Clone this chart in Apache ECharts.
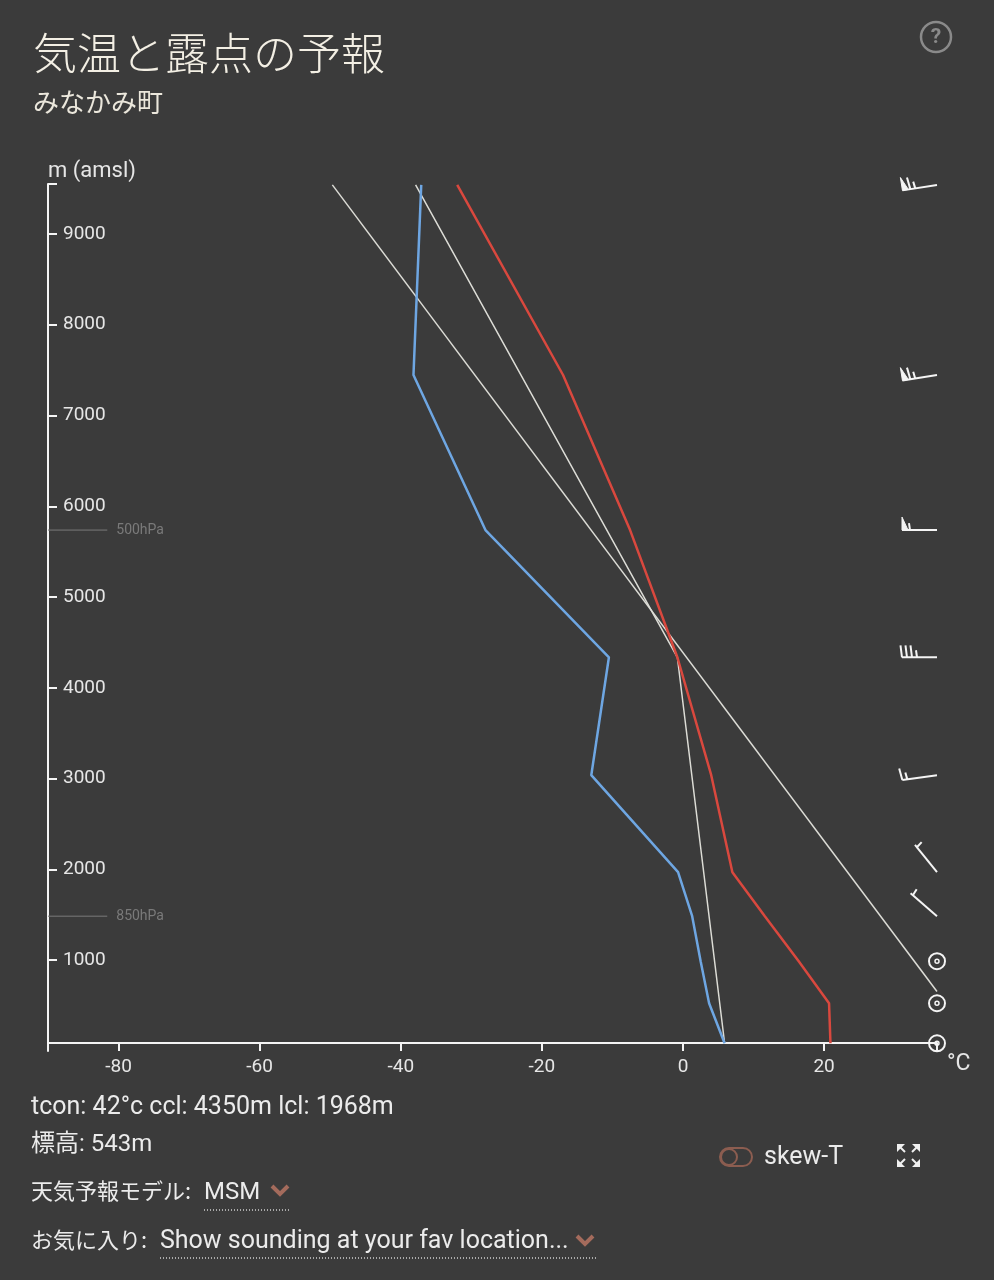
<!DOCTYPE html>
<html>
<head>
<meta charset="utf-8">
<script src="https://cdn.jsdelivr.net/npm/echarts@6/dist/echarts.min.js"></script>
<style>
  html, body { margin: 0; padding: 0; background: #3b3b3b; }
  #chart { width: 994px; height: 1280px; }
</style>
</head>
<body>
<div id="chart"></div>
<script>
// pressure levels (hPa) and their heights (m amsl)
const levels = [1000, 950, 900, 850, 800, 700, 600, 500, 400, 300]
const heights = [85, 526, 989, 1485, 1970, 3038, 4337, 5738, 7446, 9540]
const temperature = [20.9, 20.7, 16.4, 11.6, 7.0, 4.0, -0.8, -7.5, -17.0, -32.0]
const dewpoint = [5.9, 3.7, 2.5, 1.3, -0.7, -13.0, -10.5, -28.0, -38.2, -37.1]
// wind (knots, direction from)
const windSpeed = [0, 0, 0, 5, 5, 15, 35, 55, 65, 65]
const windDir = [0, 0, 0, 311, 321, 262, 270, 270, 261, 261]
// guide lines: dry adiabat through tcon, and parcel path (mixing ratio + moist adiabat)
const dryAdiabat = [[-49.7, 9540], [36, 655]]
const parcelPath = [[5.9, 85], [-0.8, 4337], [-37.9, 9540]]
// reference pressure heights
const pressureRefs = [
  { name: '500hPa', h: 5738 },
  { name: '850hPa', h: 1485 }
]
const xMin = -90
const xMax = 36
const xTicks = [-80, -60, -40, -20, 0, 20]
const yTicks = [1000, 2000, 3000, 4000, 5000, 6000, 7000, 8000, 9000]
const yMax = 9550

const fontUI = 'Roboto, "Noto Sans CJK JP", sans-serif'
const fontJP = '"Noto Sans CJK JP", sans-serif'

const chart = echarts.init(document.getElementById('chart'))

function renderBarb(params, api) {
  const spd = api.value(2)
  const dir = api.value(3) * Math.PI / 180
  const p = api.coord([api.value(0), api.value(1)])
  const stroke = '#f4f4f4'
  if (spd < 2.5) {
    return {
      type: 'group',
      children: [
        { type: 'circle', shape: { cx: p[0], cy: p[1], r: 8 }, style: { fill: 'none', stroke, lineWidth: 2 } },
        { type: 'circle', shape: { cx: p[0], cy: p[1], r: 2 }, style: { fill: 'none', stroke, lineWidth: 1.5 } }
      ]
    }
  }
  const L = 35
  const ux = Math.sin(dir)
  const uy = -Math.cos(dir)
  const nx = -uy
  const ny = ux
  const at = (s, n) => [p[0] + ux * s + nx * n, p[1] + uy * s + ny * n]
  const children = [
    { type: 'line', shape: { x1: p[0], y1: p[1], x2: at(L, 0)[0], y2: at(L, 0)[1] }, style: { stroke, lineWidth: 2 } }
  ]
  let rem = spd
  let pos = L
  while (rem >= 50) {
    children.push({ type: 'polygon', shape: { points: [at(pos, 0), at(pos, 13), at(pos - 6, 0)] }, style: { fill: stroke, stroke, lineWidth: 1 } })
    pos -= 8
    rem -= 50
  }
  while (rem >= 10) {
    const a = at(pos, 0)
    const b = at(pos + 1.5, 12)
    children.push({ type: 'line', shape: { x1: a[0], y1: a[1], x2: b[0], y2: b[1] }, style: { stroke, lineWidth: 2 } })
    pos -= 5
    rem -= 10
  }
  if (rem >= 5) {
    if (pos === L) pos -= 3
    const a = at(pos, 0)
    const b = at(pos + 1, 7)
    children.push({ type: 'line', shape: { x1: a[0], y1: a[1], x2: b[0], y2: b[1] }, style: { stroke, lineWidth: 2 } })
  }
  return { type: 'group', children }
}

const refSeries = pressureRefs.map(r => ({
  type: 'line',
  silent: true,
  symbol: 'none',
  lineStyle: { color: '#7a7a7a', width: 1 },
  endLabel: { show: true, distance: 9, formatter: r.name, color: '#7a7a7a', fontSize: 14, fontFamily: fontUI },
  data: [[xMin, r.h], [-81.6, r.h]],
  z: 1
}))

chart.setOption({
  backgroundColor: '#3b3b3b',
  animation: false,
  title: {
    text: '気温と露点の予報',
    subtext: 'みなかみ町',
    left: 28,
    top: 26,
    itemGap: 14,
    textStyle: { color: '#f3efe4', fontSize: 44, fontWeight: 300, fontFamily: fontJP },
    subtextStyle: { color: '#ebe7dc', fontSize: 26, fontFamily: fontJP }
  },
  grid: { left: 48, right: 57, top: 184, bottom: 229, containLabel: false },
  xAxis: {
    type: 'value',
    min: xMin,
    max: xMax,
    offset: -8,
    name: '°C',
    nameLocation: 'end',
    nameGap: 10,
    nameTextStyle: { color: '#e6e6e6', fontSize: 23, fontFamily: fontUI, verticalAlign: 'top', padding: [10, 0, 0, 0] },
    axisLine: { onZero: false, lineStyle: { color: '#f4f4f4', width: 2 } },
    axisTick: { show: true, length: 8, lineStyle: { color: '#f4f4f4', width: 2 }, customValues: xTicks.concat([xMax]) },
    axisLabel: { color: '#e6e6e6', fontSize: 19, fontFamily: fontUI, margin: 15, customValues: xTicks },
    splitLine: { show: false }
  },
  yAxis: {
    type: 'value',
    min: 0,
    max: yMax,
    name: 'm (amsl)',
    nameLocation: 'end',
    nameGap: 1,
    nameTextStyle: { color: '#e6e6e6', fontSize: 22, fontFamily: fontUI, align: 'left' },
    axisLine: { show: true, onZero: false, lineStyle: { color: '#f4f4f4', width: 2 } },
    axisTick: { show: true, inside: true, length: 9, lineStyle: { color: '#f4f4f4', width: 2 }, customValues: yTicks.concat([yMax]) },
    axisLabel: { inside: true, margin: 15, color: '#e6e6e6', fontSize: 19, fontFamily: fontUI, customValues: yTicks, formatter: v => String(v) },
    splitLine: { show: false }
  },
  series: [
    ...refSeries,
    {
      name: 'dry adiabat',
      type: 'line',
      symbol: 'none',
      silent: true,
      lineStyle: { color: '#dcdcd6', width: 1.5 },
      data: dryAdiabat,
      z: 2
    },
    {
      name: 'parcel',
      type: 'line',
      symbol: 'none',
      silent: true,
      lineStyle: { color: '#dcdcd6', width: 1.5 },
      data: parcelPath,
      z: 2
    },
    {
      name: '露点',
      type: 'line',
      symbol: 'none',
      lineStyle: { color: '#6ea6e2', width: 2.5 },
      data: heights.map((h, i) => [dewpoint[i], h]),
      z: 3
    },
    {
      name: '気温',
      type: 'line',
      symbol: 'none',
      lineStyle: { color: '#d9483e', width: 2.5 },
      data: heights.map((h, i) => [temperature[i], h]),
      z: 3
    },
    {
      name: 'wind',
      type: 'custom',
      renderItem: renderBarb,
      encode: { x: 0, y: 1 },
      data: heights.map((h, i) => [xMax, h, windSpeed[i], windDir[i], levels[i]]),
      clip: false,
      z: 4
    }
  ],
  graphic: [
    // help icon
    { type: 'circle', shape: { cx: 936, cy: 37, r: 15 }, style: { fill: 'none', stroke: '#8a8a8a', lineWidth: 2.5 } },
    { type: 'text', x: 936, y: 38, style: { text: '?', fill: '#8a8a8a', font: 'bold 21px ' + fontUI, align: 'center', verticalAlign: 'middle' } },
    // info lines
    { type: 'text', x: 31, y: 1108, style: { text: 'tcon: 42°c ccl: 4350m lcl: 1968m', fill: '#ebebeb', font: '25px ' + fontUI, verticalAlign: 'middle' } },
    { type: 'text', x: 31, y: 1145, style: { text: '標高: 543m', fill: '#ebebeb', font: '24px ' + fontUI, verticalAlign: 'middle' } },
    { type: 'text', x: 31, y: 1191, style: { text: '天気予報モデル:', fill: '#ebebeb', font: '22px ' + fontJP, verticalAlign: 'middle' } },
    { type: 'text', x: 204, y: 1193, style: { text: 'MSM', fill: '#ebebeb', font: '24px ' + fontUI, verticalAlign: 'middle' } },
    { type: 'polyline', shape: { points: [[272, 1186], [280, 1194], [288, 1186]] }, style: { stroke: '#a46b5c', lineWidth: 4, fill: 'none' } },
    { type: 'line', shape: { x1: 204, y1: 1210, x2: 291, y2: 1210 }, style: { stroke: '#d0d0d0', lineWidth: 1.5, lineDash: [1, 2] } },
    { type: 'text', x: 31, y: 1240, style: { text: 'お気に入り:', fill: '#ebebeb', font: '22px ' + fontJP, verticalAlign: 'middle' } },
    { type: 'text', x: 160, y: 1242, style: { text: 'Show sounding at your fav location...', fill: '#ebebeb', font: '25px ' + fontUI, verticalAlign: 'middle' } },
    { type: 'polyline', shape: { points: [[577, 1236], [585, 1244], [593, 1236]] }, style: { stroke: '#a46b5c', lineWidth: 4, fill: 'none' } },
    { type: 'line', shape: { x1: 160, y1: 1258, x2: 597, y2: 1258 }, style: { stroke: '#d0d0d0', lineWidth: 1.5, lineDash: [1, 2] } },
    // skew-T toggle
    { type: 'rect', shape: { x: 720, y: 1148, width: 32, height: 18, r: 9 }, style: { fill: 'none', stroke: '#8c5d50', lineWidth: 2 } },
    { type: 'circle', shape: { cx: 729, cy: 1157, r: 8 }, style: { fill: 'none', stroke: '#8c5d50', lineWidth: 2 } },
    { type: 'text', x: 764, y: 1158, style: { text: 'skew-T', fill: '#ebebeb', font: '25px ' + fontUI, verticalAlign: 'middle' } },
    // fullscreen icon
    { type: 'polygon', shape: { points: [[897, 1144], [905, 1144], [897, 1152]] }, style: { fill: '#f0f0f0' } },
    { type: 'polygon', shape: { points: [[920, 1144], [912, 1144], [920, 1152]] }, style: { fill: '#f0f0f0' } },
    { type: 'polygon', shape: { points: [[897, 1167], [905, 1167], [897, 1159]] }, style: { fill: '#f0f0f0' } },
    { type: 'polygon', shape: { points: [[920, 1167], [912, 1167], [920, 1159]] }, style: { fill: '#f0f0f0' } },
    { type: 'line', shape: { x1: 899, y1: 1146, x2: 905, y2: 1152 }, style: { stroke: '#f0f0f0', lineWidth: 2 } },
    { type: 'line', shape: { x1: 918, y1: 1146, x2: 912, y2: 1152 }, style: { stroke: '#f0f0f0', lineWidth: 2 } },
    { type: 'line', shape: { x1: 899, y1: 1165, x2: 905, y2: 1159 }, style: { stroke: '#f0f0f0', lineWidth: 2 } },
    { type: 'line', shape: { x1: 918, y1: 1165, x2: 912, y2: 1159 }, style: { stroke: '#f0f0f0', lineWidth: 2 } }
  ]
})
</script>
</body>
</html>
